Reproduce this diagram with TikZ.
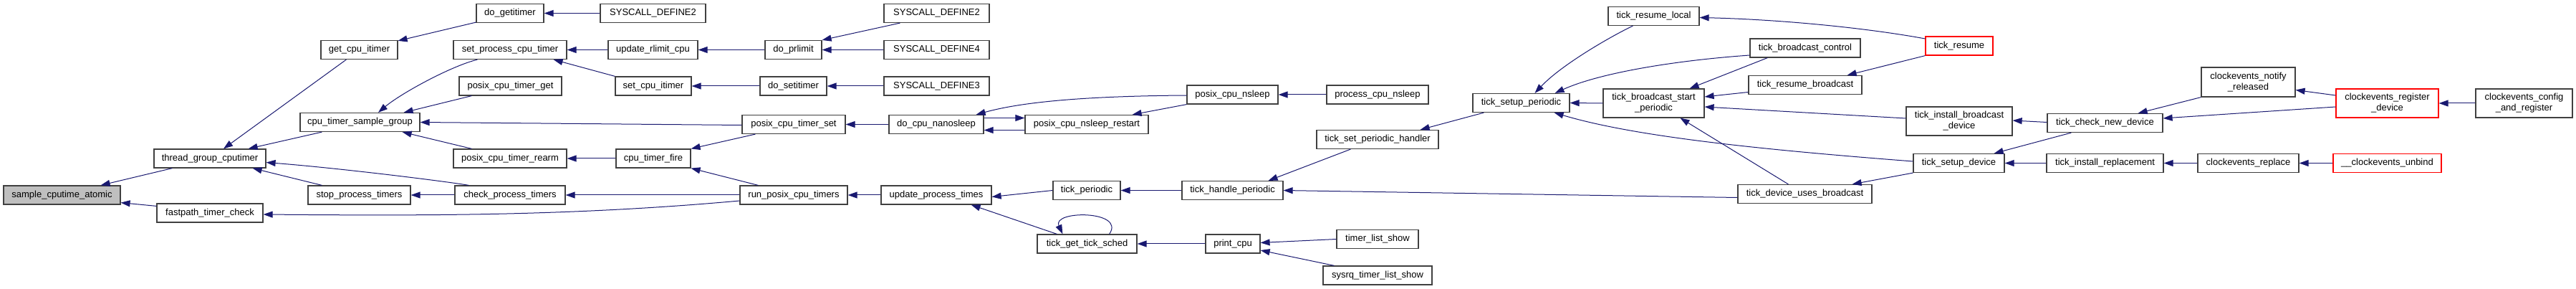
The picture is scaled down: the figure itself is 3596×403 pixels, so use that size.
\documentclass[tikz,border=0pt]{standalone}
\usepackage{fontspec}
\setmainfont{Liberation Sans}
\usetikzlibrary{arrows.meta}
\definecolor{midnightblue}{HTML}{191970}
\definecolor{nodeborder}{HTML}{404040}
\tikzset{
  fnbox/.style={draw=nodeborder, line width=1.2pt, fill=white, rectangle, inner sep=0pt,
    minimum height=26pt, align=center, font=\fontsize{13}{15}\selectfont},
  twoline/.style={minimum height=40pt},
  redbox/.style={draw=red},
  calllink/.style={draw=midnightblue, line width=1pt, -{Triangle[length=13pt,width=9pt,fill=midnightblue]}}
}
\begin{document}
\begin{tikzpicture}[x=1pt,y=-1pt]
\useasboundingbox (0,0) rectangle (3596,403);
% column 1
\node[fnbox,fill=gray!50,minimum width=163pt] (sca) at (86.5,272) {sample\_cputime\_atomic};
% column 2
\node[fnbox,minimum width=156pt] (tgc) at (293,221) {thread\_group\_cputimer};
\node[fnbox,minimum width=148pt] (ftc) at (293,297) {fastpath\_timer\_check};
% column 3
\node[fnbox,minimum width=107pt] (gci) at (501.5,69.5) {get\_cpu\_itimer};
\node[fnbox,minimum width=167pt] (ctsg) at (502.5,170.5) {cpu\_timer\_sample\_group};
\node[fnbox,minimum width=143pt] (spt) at (501.5,272) {stop\_process\_timers};
% column 4
\node[fnbox,minimum width=94pt] (dgi) at (712,18.5) {do\_getitimer};
\node[fnbox,minimum width=158pt] (spct) at (712,69.5) {set\_process\_cpu\_timer};
\node[fnbox,minimum width=143pt] (pctg) at (712.5,120) {posix\_cpu\_timer\_get};
\node[fnbox,minimum width=158pt] (pctr) at (712,221) {posix\_cpu\_timer\_rearm};
\node[fnbox,minimum width=154pt] (cpt) at (712,272) {check\_process\_timers};
% column 5
\node[fnbox,minimum width=147pt] (sd2a) at (911.5,18.5) {SYSCALL\_DEFINE2};
\node[fnbox,minimum width=125pt] (urc) at (911.5,69.5) {update\_rlimit\_cpu};
\node[fnbox,minimum width=106pt] (sci) at (912,120) {set\_cpu\_itimer};
\node[fnbox,minimum width=104pt] (ctf) at (912,221) {cpu\_timer\_fire};
% column 6
\node[fnbox,minimum width=79pt] (dpr) at (1107.5,69.5) {do\_prlimit};
\node[fnbox,minimum width=93pt] (dsi) at (1107.5,120) {do\_setitimer};
\node[fnbox,minimum width=144pt] (pcts) at (1108,173.5) {posix\_cpu\_timer\_set};
\node[fnbox,minimum width=150pt] (rpct) at (1108,272) {run\_posix\_cpu\_timers};
% column 7
\node[fnbox,minimum width=147pt] (sd2b) at (1307.5,18.5) {SYSCALL\_DEFINE2};
\node[fnbox,minimum width=147pt] (sd4) at (1307.5,69.5) {SYSCALL\_DEFINE4};
\node[fnbox,minimum width=147pt] (sd3) at (1307.5,120) {SYSCALL\_DEFINE3};
\node[fnbox,minimum width=132pt] (dcn) at (1307,173.5) {do\_cpu\_nanosleep};
\node[fnbox,minimum width=154pt] (upt) at (1307,272) {update\_process\_times};
% column 8
\node[fnbox,minimum width=172pt] (pcnr) at (1517,173.5) {posix\_cpu\_nsleep\_restart};
\node[fnbox,minimum width=94pt] (tp) at (1517,265.5) {tick\_periodic};
\node[fnbox,minimum width=139pt] (tgts) at (1517.5,340) {tick\_get\_tick\_sched};
% column 9
\node[fnbox,minimum width=127pt] (pcn) at (1720.5,132) {posix\_cpu\_nsleep};
\node[fnbox,minimum width=141pt] (thp) at (1720.5,265.5) {tick\_handle\_periodic};
\node[fnbox,minimum width=76pt] (pc) at (1721,340) {print\_cpu};
% column 10
\node[fnbox,minimum width=142pt] (pcns) at (1923,132) {process\_cpu\_nsleep};
\node[fnbox,minimum width=170pt] (tsph) at (1923,194.5) {tick\_set\_periodic\_handler};
\node[fnbox,minimum width=114pt] (tls) at (1923,333.5) {timer\_list\_show};
\node[fnbox,minimum width=152pt] (stls) at (1923,384) {sysrq\_timer\_list\_show};
% column 11
\node[fnbox,minimum width=135pt] (tsp) at (2123.5,143.5) {tick\_setup\_periodic};
% column 12
\node[fnbox,minimum width=127pt] (trl) at (2308.5,22.5) {tick\_resume\_local};
\node[fnbox,twoline,minimum width=141pt] (tbsp) at (2308.5,144) {tick\_broadcast\_start\\\_periodic};
% column 13
\node[fnbox,minimum width=154pt] (tbc) at (2520,67) {tick\_broadcast\_control};
\node[fnbox,minimum width=158pt] (trb) at (2520,118.5) {tick\_resume\_broadcast};
\node[fnbox,minimum width=187pt] (tdub) at (2519.5,270.5) {tick\_device\_uses\_broadcast};
% column 14
\node[fnbox,redbox,minimum width=94pt] (tr) at (2735,64) {tick\_resume};
\node[fnbox,twoline,minimum width=148pt] (tibd) at (2735,169) {tick\_install\_broadcast\\\_device};
\node[fnbox,minimum width=127pt] (tsd) at (2734.5,227.5) {tick\_setup\_device};
% column 15
\node[fnbox,minimum width=161pt] (tcnd) at (2938.5,171.5) {tick\_check\_new\_device};
\node[fnbox,minimum width=163pt] (tir) at (2938.5,227.5) {tick\_install\_replacement};
% column 16
\node[fnbox,minimum width=131pt,minimum height=41pt] (cnr) at (3138.5,114.5) {clockevents\_notify\\\_released};
\node[fnbox,minimum width=141pt] (cr) at (3138.5,227.5) {clockevents\_replace};
% column 17
\node[fnbox,redbox,twoline,minimum width=143pt] (crd) at (3332.5,144) {clockevents\_register\\\_device};
\node[fnbox,redbox,minimum width=151pt] (cub) at (3332.5,227.5) {\_\_clockevents\_unbind};
% column 18
\node[fnbox,twoline,minimum width=135pt] (ccar) at (3523.5,144) {clockevents\_config\\\_and\_register};

% ---------------- connectors (caller -> callee, arrow at callee)
\draw[calllink] ([xshift=26pt]tgc.south west) -- ([xshift=-28pt]sca.north east);
\draw[calllink] ([yshift=-4pt]ftc.north west) -- ([yshift=3pt]sca.south east);
\draw[calllink] ([xshift=36pt]gci.south west) -- ([xshift=19pt]tgc.north);
\draw[calllink] ([xshift=31pt]ctsg.south west) -- ([xshift=-25pt]tgc.north east);
\draw[calllink] ([xshift=20pt]cpt.north west) .. controls (630,254) and (480,235) .. ([yshift=-5.5pt]tgc.east);
\draw[calllink] ([xshift=20pt]spt.north west) -- ([xshift=-19pt]tgc.south east);
\draw[calllink] ([yshift=-8pt]rpct.west) .. controls (800,301) and (600,301) .. ([yshift=-2pt]ftc.east);
\draw[calllink] ([xshift=34pt]spct.south west) .. controls (630,92) and (560,130) .. ([xshift=25.5pt]ctsg.north);
\draw[calllink] ([xshift=18pt]pctg.south west) -- ([xshift=-23pt]ctsg.north east);
\draw[calllink] ([yshift=-1pt]pcts.west) -- (ctsg.east);
\draw[calllink] ([xshift=26pt]pctr.north west) -- ([xshift=-25pt]ctsg.south east);
\draw[calllink] (cpt.west) -- (spt.east);
\draw[calllink] (sd2a.west) -- (dgi.east);
\draw[calllink] ([yshift=1pt]dgi.south west) -- ([yshift=-1pt]gci.north east);
\draw[calllink] (urc.west) -- (spct.east);
\draw[calllink] (sci.north west) -- ([xshift=-19pt]spct.south east);
\draw[calllink] (ctf.west) -- (pctr.east);
\draw[calllink] (rpct.west) -- (cpt.east);
\draw[calllink] (dpr.west) -- (urc.east);
\draw[calllink] (dsi.west) -- (sci.east);
\draw[calllink] ([xshift=19pt]pcts.south west) -- (ctf.north east);
\draw[calllink] ([xshift=26pt]rpct.north west) -- (ctf.south east);
\draw[calllink] ([xshift=23pt]sd2b.south west) -- (dpr.north east);
\draw[calllink] (sd4.west) -- (dpr.east);
\draw[calllink] (sd3.west) -- (dsi.east);
\draw[calllink] (dcn.west) -- (pcts.east);
\draw[calllink] (upt.west) -- (rpct.east);
\draw[calllink] ([yshift=-1pt]pcn.west) .. controls (1500,134) and (1420,144) .. ([xshift=-11pt]dcn.north east);
\draw[calllink] ([yshift=-8pt]pcnr.west) -- ([yshift=-8pt]dcn.east);
\draw[calllink] ([yshift=9pt]dcn.east) -- ([yshift=9pt]pcnr.west);
\draw[calllink] (pcn.south west) -- ([xshift=-23pt]pcnr.north east);
\draw[calllink] (pcns.west) -- (pcn.east);
\draw[calllink] (tp.west) -- ([yshift=-2.5pt]upt.east);
\draw[calllink] ([xshift=28pt]tgts.north west) -- ([xshift=-29pt]upt.south east);
\draw[calllink] (thp.west) -- (tp.east);
\draw[calllink] ([xshift=-39pt]tgts.north east) .. controls (1572,293) and (1468,293) .. ([xshift=36pt]tgts.north west);
\draw[calllink] (pc.west) -- (tgts.east);
\draw[calllink] (tls.west) -- ([yshift=1.5pt]pc.east);
\draw[calllink] ([xshift=16pt]stls.north west) -- ([yshift=-9pt]pc.east);
\draw[calllink] ([xshift=48pt]tsph.south west) -- ([xshift=-21pt]thp.north east);
\draw[calllink] ([yshift=-5pt]tdub.west) -- (thp.east);
\draw[calllink] ([xshift=16pt]tsp.south west) -- ([xshift=-26pt]tsph.north east);
\draw[calllink] ([xshift=35pt]trl.south west) .. controls (2250,50) and (2180,90) .. ([xshift=19pt]tsp.north);
\draw[calllink] ([yshift=-10pt]tbc.west) .. controls (2330,85) and (2230,103) .. ([xshift=-21pt]tsp.north east);
\draw[calllink] (tbsp.west) -- (tsp.east);
\draw[calllink] ([yshift=2.5pt]tsd.west) .. controls (2450,208) and (2280,190) .. ([xshift=-22pt]tsp.south east);
\draw[calllink] ([xshift=25pt]tbc.south west) -- ([xshift=-21pt]tbsp.north east);
\draw[calllink] ([yshift=-10pt]trb.west) -- ([yshift=9pt]tbsp.east);
\draw[calllink] ([yshift=4pt]tibd.west) -- ([yshift=-5pt]tbsp.east);
\draw[calllink] ([xshift=71pt]tdub.north west) -- ([xshift=37pt]tbsp.south);
\draw[calllink] ([yshift=10pt]tr.west) .. controls (2600,38) and (2480,27) .. ([yshift=-2pt]trl.east);
\draw[calllink] (tr.south west) -- ([xshift=-21pt]trb.north east);
\draw[calllink] ([yshift=1pt]tcnd.west) -- ([yshift=1pt]tibd.east);
\draw[calllink] ([xshift=34pt]tcnd.south west) -- ([xshift=-15pt]tsd.north east);
\draw[calllink] (tir.west) -- (tsd.east);
\draw[calllink] (tsd.south west) -- ([xshift=-28pt]tdub.north east);
\draw[calllink] (cnr.south west) -- ([xshift=-35pt]tcnd.north east);
\draw[calllink] ([yshift=-5pt]crd.west) -- ([yshift=6.5pt]tcnd.east);
\draw[calllink] ([yshift=11pt]crd.west) -- ([yshift=-11pt]cnr.east);
\draw[calllink] (ccar.west) -- (crd.east);
\draw[calllink] (cr.west) -- (tir.east);
\draw[calllink] (cub.west) -- (cr.east);
\end{tikzpicture}
\end{document}
